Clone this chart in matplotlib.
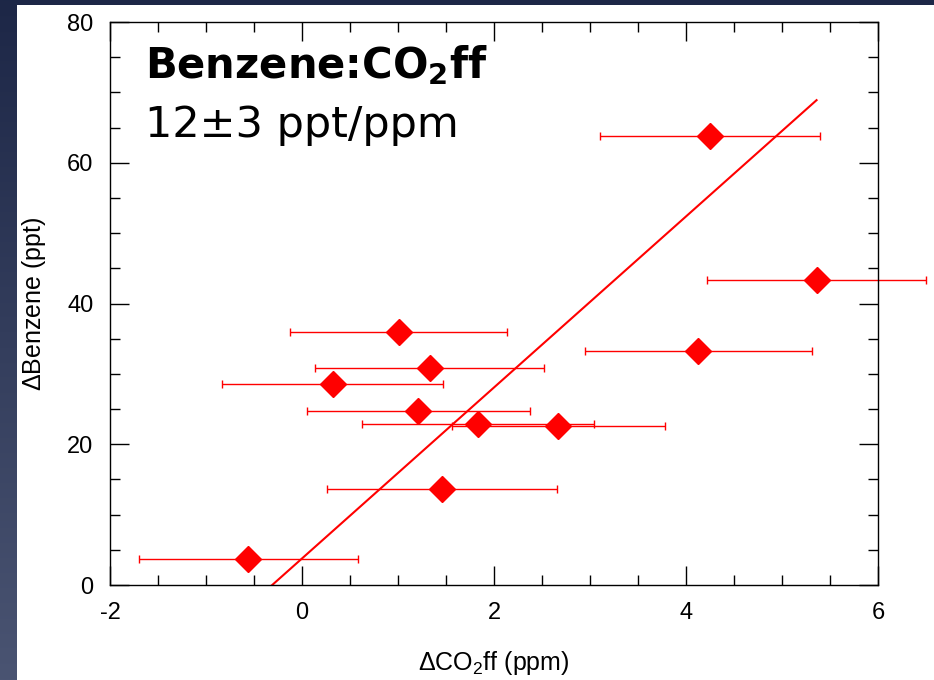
import matplotlib as mpl
import matplotlib.pyplot as plt
import numpy as np
from matplotlib.patches import Rectangle
from matplotlib.ticker import MultipleLocator

# values
co2ff = [4.25, 5.36, 1.01, 4.13, 1.33, 0.32, 1.21, 1.83, 2.67, 1.46, -0.56]
benzene = [63.8, 43.3, 35.9, 33.2, 30.8, 28.5, 24.7, 22.9, 22.6, 13.6, 3.7]
co2ff_err = [1.15, 1.14, 1.13, 1.18, 1.19, 1.15, 1.16, 1.21, 1.11, 1.20, 1.14]
fit_slope = 12.15
fit_intercept = 3.77
fit_range = [-0.5, 5.36]

mpl.rcParams['mathtext.fontset'] = 'custom'
mpl.rcParams['mathtext.rm'] = 'Liberation Sans'
mpl.rcParams['mathtext.bf'] = 'DejaVu Sans:bold'
mpl.rcParams['font.family'] = ['Liberation Sans', 'DejaVu Sans']
mpl.rcParams['axes.unicode_minus'] = False

fig = plt.figure(figsize=(9.34, 6.8), dpi=100)

# dark slide background with white panel
bg = fig.add_axes([0, 0, 1, 1], zorder=-2)
grad = np.linspace(0, 1, 256).reshape(-1, 1)
cmap = mpl.colors.LinearSegmentedColormap.from_list('bg', ['#1d2747', '#4a5472'])
bg.imshow(grad, aspect='auto', cmap=cmap, extent=[0, 1, 0, 1], origin='upper')
bg.add_patch(Rectangle((17 / 934, 0), 1, 1 - 5 / 680, facecolor='white',
                       edgecolor='none', transform=bg.transAxes))
bg.set_axis_off()

ax = fig.add_axes([110 / 934, 1 - 585 / 680, 768 / 934, 563 / 680])
ax.set_xlim(-2, 6)
ax.set_ylim(0, 80)

ax.errorbar(co2ff, benzene, xerr=co2ff_err, fmt='none', ecolor='red',
            elinewidth=1, capsize=3, capthick=1, clip_on=False, zorder=2)
ax.plot(co2ff, benzene, 'D', color='red', markersize=13, clip_on=False, zorder=3)

xf = np.array(fit_range)
ax.plot(xf, fit_slope * xf + fit_intercept, color='red', lw=1.5, zorder=2)

ax.xaxis.set_major_locator(MultipleLocator(2))
ax.xaxis.set_minor_locator(MultipleLocator(0.5))
ax.yaxis.set_major_locator(MultipleLocator(20))
ax.yaxis.set_minor_locator(MultipleLocator(5))
ax.tick_params(which='both', direction='in', top=True, right=True, width=1)
ax.tick_params(which='major', length=14, labelsize=17, pad=12)
ax.tick_params(which='minor', length=7)
for s in ax.spines.values():
    s.set_linewidth(1)

ax.set_xlabel(r'$\Delta$CO$_2$ff (ppm)', fontsize=18, labelpad=18)
ax.set_ylabel(r'$\Delta$Benzene (ppt)', fontsize=18, labelpad=14)

ax.text(0.045, 0.962, r'Benzene:CO$_\mathbf{2}$ff', transform=ax.transAxes,
        fontsize=30, fontweight='bold', family='DejaVu Sans', va='top', ha='left')
ax.text(0.045, 0.855, '12±3 ppt/ppm', transform=ax.transAxes,
        fontsize=31, family='DejaVu Sans', va='top', ha='left')

fig.savefig('out.png', dpi=100)
